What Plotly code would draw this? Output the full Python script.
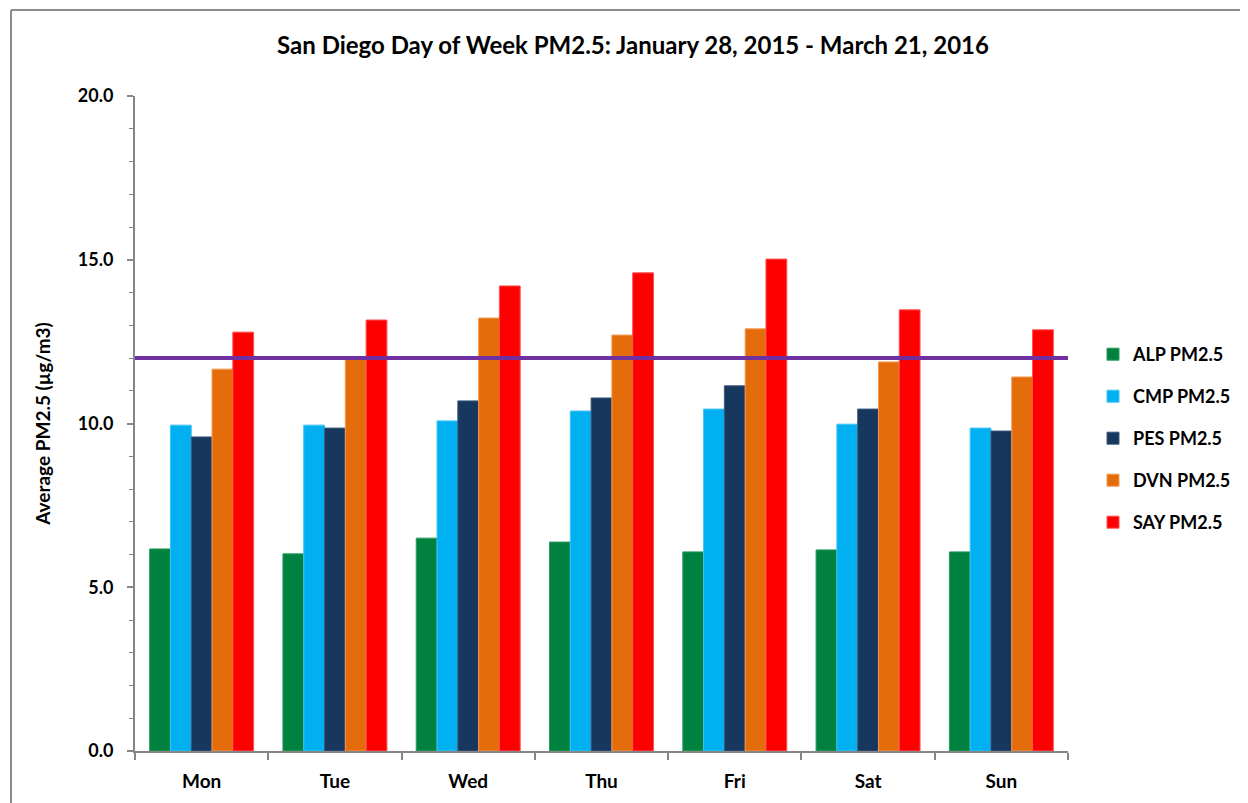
import plotly.graph_objects as go

# Day-of-week averages
days = ["Mon", "Tue", "Wed", "Thu", "Fri", "Sat", "Sun"]
alp = [6.17, 6.02, 6.50, 6.38, 6.08, 6.14, 6.08]
cmp_ = [9.95, 9.95, 10.08, 10.38, 10.44, 9.98, 9.86]
pes = [9.59, 9.86, 10.69, 10.78, 11.15, 10.44, 9.77]
dvn = [11.66, 12.03, 13.22, 12.70, 12.89, 11.88, 11.42]
say = [12.79, 13.16, 14.20, 14.60, 15.02, 13.47, 12.86]
standard = 12.0  # annual PM2.5 standard line

series = [
    ("ALP PM2.5", alp, "#00813F", "#2a9a5e"),
    ("CMP PM2.5", cmp_, "#00B0F0", "#40c4f4"),
    ("PES PM2.5", pes, "#17375E", "#3a5a80"),
    ("DVN PM2.5", dvn, "#E46C0A", "#f59a50"),
    ("SAY PM2.5", say, "#FF0000", "#ff5050"),
]

FONT = "Lato, 'Open Sans', sans-serif"
OFF = 8  # page body margin

fig = go.Figure()
for i, (name, vals, color, edge) in enumerate(series):
    fig.add_trace(go.Bar(
        x=days, y=vals, name=f"<b>{name}</b>", legendgroup=f"g{i}",
        marker=dict(color=color, line=dict(color=edge, width=1)),
    ))

# plot area on the page: x 135..1068, y 96..751
def px_x(p):
    return (p - 135) / 933

def px_y(p):
    return (751 - p) / 655

frame = dict(color="#8c8c8c", width=2)

fig.update_layout(
    width=1248 - OFF, height=803 - OFF,
    margin=dict(l=135 - OFF, r=180, t=96 - OFF, b=52),
    paper_bgcolor="white", plot_bgcolor="white",
    barmode="group", bargap=0.22, bargroupgap=0,
    font=dict(family=FONT, size=18, color="black"),
    title=dict(
        text="<b>San Diego Day of Week PM2.5: January 28, 2015 - March 21, 2016</b>",
        x=(633 - OFF) / (1248 - OFF), xanchor="center",
        y=1 - (46 - OFF) / (803 - OFF), yanchor="middle",
        font=dict(family=FONT, size=24, color="black"),
    ),
    legend=dict(
        x=px_x(1093), xanchor="left", y=px_y(336), yanchor="top",
        font=dict(family=FONT, size=18, color="black"),
        tracegroupgap=15.6, itemwidth=30,
    ),
    xaxis=dict(
        type="category", tickson="boundaries",
        ticks="outside", ticklen=7, tickcolor="#868686", tickwidth=2,
        ticklabelstandoff=12,
        showline=True, linecolor="#868686", linewidth=2,
        tickfont=dict(family=FONT, size=19, color="black"),
        tickprefix="<b>", ticksuffix="</b>",
        showgrid=False,
    ),
    yaxis=dict(
        range=[0, 20], tickvals=[0, 5, 10, 15, 20],
        ticktext=["<b>0.0</b>", "<b>5.0</b>", "<b>10.0</b>", "<b>15.0</b>", "<b>20.0</b>"],
        ticks="outside", ticklen=6, tickcolor="#868686", tickwidth=2,
        ticklabelstandoff=10,
        minor=dict(dtick=1, ticks="outside", ticklen=4, tickcolor="#868686", tickwidth=1),
        showline=True, linecolor="#868686", linewidth=2,
        showgrid=False, zeroline=False,
        tickfont=dict(family=FONT, size=18, color="black"),
        title=dict(text="<b>Average PM2.5 (µg/m3)</b>", standoff=22,
                   font=dict(family=FONT, size=19, color="black")),
    ),
    shapes=[
        dict(type="line", xref="paper", yref="y", x0=0, x1=1,
             y0=standard, y1=standard, line=dict(color="#7030A0", width=4)),
        # outer chart frame: only its left and top edges fall inside the picture
        dict(type="line", xref="paper", yref="paper",
             x0=px_x(11), x1=px_x(11), y0=px_y(900), y1=px_y(10), line=frame),
        dict(type="line", xref="paper", yref="paper",
             x0=px_x(11), x1=px_x(1400), y0=px_y(10), y1=px_y(10), line=frame),
    ],
)

fig.write_html("out.html")
